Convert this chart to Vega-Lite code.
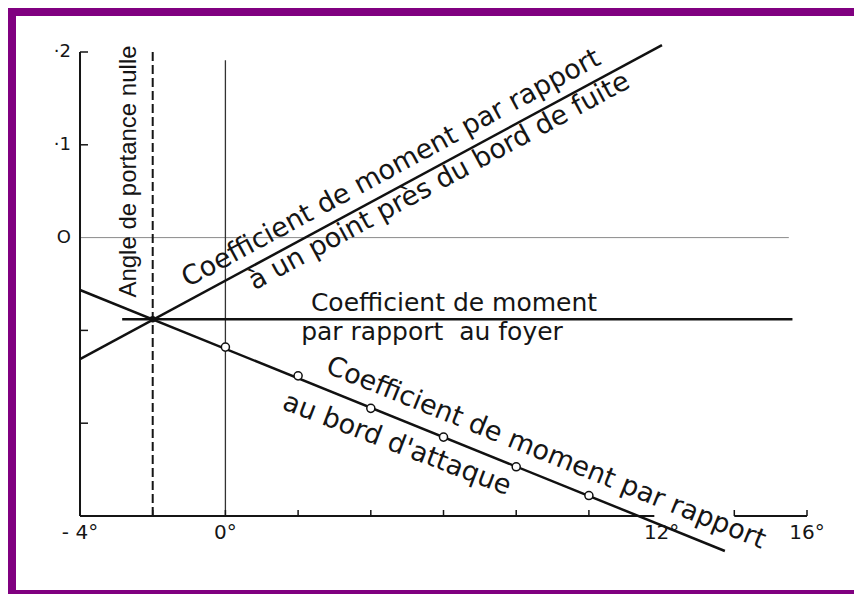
{
  "$schema": "https://vega.github.io/schema/vega-lite/v6.json",
  "width": 842,
  "height": 582,
  "autosize": {"type": "none"},
  "padding": {"left": 12, "top": 12, "right": 0, "bottom": 0},
  "background": "white",
  "config": {
    "view": {"stroke": "#800080", "strokeWidth": 8, "strokeDash": [842, 582, 1424]},
    "text": {"font": "DejaVu Sans", "color": "#151515"}
  },
  "encoding": {
    "x": {"field": "x", "type": "quantitative", "axis": null,
          "scale": {"domain": [-5.871, 17.293], "nice": false, "zero": false}},
    "y": {"field": "y", "type": "quantitative", "axis": null,
          "scale": {"domain": [-0.38406, 0.2431], "nice": false, "zero": false}}
  },
  "layer": [
    {
      "data": {"values": [{"x": -4, "x2": 15.5, "y": 0, "y2": 0}]},
      "mark": {"type": "rule", "color": "#8a8a8a", "strokeWidth": 1},
      "encoding": {"x2": {"field": "x2"}, "y2": {"field": "y2"}}
    },
    {
      "data": {"values": [
        {"x": -4, "x2": -4, "y": -0.3, "y2": 0.2},
        {"x": -4, "x2": 11.8, "y": -0.3, "y2": -0.3},
        {"x": 14, "x2": 16, "y": -0.3, "y2": -0.3}
      ]},
      "mark": {"type": "rule", "color": "#151515", "strokeWidth": 2},
      "encoding": {"x2": {"field": "x2"}, "y2": {"field": "y2"}}
    },
    {
      "data": {"values": [{"x": 0, "x2": 0, "y": -0.3, "y2": 0.191}]},
      "mark": {"type": "rule", "color": "#333333", "strokeWidth": 1.3},
      "encoding": {"x2": {"field": "x2"}, "y2": {"field": "y2"}}
    },
    {
      "data": {"values": [{"x": -2, "x2": -2, "y": -0.3, "y2": 0.2}]},
      "mark": {"type": "rule", "color": "#151515", "strokeWidth": 2, "strokeDash": [9, 4]},
      "encoding": {"x2": {"field": "x2"}, "y2": {"field": "y2"}}
    },
    {
      "data": {"values": [
        {"x": -2, "y": -0.3}, {"x": 0, "y": -0.3}, {"x": 2, "y": -0.3},
        {"x": 4, "y": -0.3}, {"x": 6, "y": -0.3}, {"x": 8, "y": -0.3},
        {"x": 10, "y": -0.3}, {"x": 14, "y": -0.3}, {"x": 16, "y": -0.3}
      ]},
      "mark": {"type": "tick", "orient": "vertical", "size": 6, "thickness": 1.5, "yOffset": -3, "color": "#151515", "opacity": 1}
    },
    {
      "data": {"values": [
        {"x": -4, "y": 0.2}, {"x": -4, "y": 0.1}, {"x": -4, "y": -0.1}, {"x": -4, "y": -0.2}
      ]},
      "mark": {"type": "tick", "orient": "horizontal", "size": 8, "thickness": 1.5, "xOffset": 4, "color": "#151515", "opacity": 1}
    },
    {
      "data": {"values": [
        {"series": "bord de fuite", "x": -4, "y": -0.131},
        {"series": "bord de fuite", "x": 12.01, "y": 0.2075},
        {"series": "foyer", "x": -2.84, "y": -0.088},
        {"series": "foyer", "x": 15.6, "y": -0.088},
        {"series": "bord d'attaque", "x": -4, "y": -0.0565},
        {"series": "bord d'attaque", "x": 13.74, "y": -0.3377}
      ]},
      "mark": {"type": "line", "color": "#111111", "strokeWidth": 2.5},
      "encoding": {"detail": {"field": "series"}}
    },
    {
      "data": {"values": [{"x": -2, "y": -0.088}]},
      "mark": {"type": "point", "filled": true, "color": "#111111", "size": 40, "opacity": 1}
    },
    {
      "data": {"values": [
        {"x": 0, "y": -0.118}, {"x": 2, "y": -0.149}, {"x": 4, "y": -0.184},
        {"x": 6, "y": -0.215}, {"x": 8, "y": -0.247}, {"x": 10, "y": -0.278}
      ]},
      "mark": {"type": "point", "filled": true, "fill": "white", "stroke": "#111111", "strokeWidth": 1.5, "size": 65, "opacity": 1}
    },
    {
      "data": {"values": [
        {"x": 4.666, "y": 0.067, "text": "Coefficient de moment par rapport"},
        {"x": 5.986, "y": 0.0528, "text": "à un point près du bord de fuite"}
      ]},
      "mark": {"type": "text", "angle": -28.4, "fontSize": 27, "align": "center", "baseline": "alphabetic"},
      "encoding": {"text": {"field": "text"}}
    },
    {
      "data": {"values": [
        {"x": 6.289, "y": -0.0791, "text": "Coefficient de moment"},
        {"x": 5.684, "y": -0.1103, "text": "par rapport \u00a0au foyer"}
      ]},
      "mark": {"type": "text", "fontSize": 25, "align": "center", "baseline": "alphabetic"},
      "encoding": {"text": {"field": "text"}}
    },
    {
      "data": {"values": [
        {"x": 8.737, "y": -0.2403, "text": "Coefficient de moment par rapport"}
      ]},
      "mark": {"type": "text", "angle": 22, "fontSize": 27, "align": "center", "baseline": "alphabetic"},
      "encoding": {"text": {"field": "text"}}
    },
    {
      "data": {"values": [
        {"x": 4.638, "y": -0.231, "text": "au bord d'attaque"}
      ]},
      "mark": {"type": "text", "angle": 21, "fontSize": 27, "align": "center", "baseline": "alphabetic"},
      "encoding": {"text": {"field": "text"}}
    },
    {
      "data": {"values": [
        {"x": -2.459, "y": 0.0712, "text": "Angle de portance nulle"}
      ]},
      "mark": {"type": "text", "angle": -90, "font": "Liberation Sans", "fontSize": 24, "align": "center", "baseline": "alphabetic"},
      "encoding": {"text": {"field": "text"}}
    },
    {
      "data": {"values": [
        {"x": -4, "y": -0.3, "text": "- 4°"},
        {"x": 0, "y": -0.3, "text": "0°"},
        {"x": 12, "y": -0.3, "text": "12°"},
        {"x": 16, "y": -0.3, "text": "16°"}
      ]},
      "mark": {"type": "text", "fontSize": 20, "align": "center", "baseline": "top", "dy": 7},
      "encoding": {"text": {"field": "text"}}
    },
    {
      "data": {"values": [
        {"x": -4, "y": 0.2, "text": "·2"},
        {"x": -4, "y": 0.1, "text": "·1"},
        {"x": -4, "y": 0, "text": "O"}
      ]},
      "mark": {"type": "text", "fontSize": 18, "align": "right", "baseline": "middle", "dx": -9},
      "encoding": {"text": {"field": "text"}}
    }
  ]
}
